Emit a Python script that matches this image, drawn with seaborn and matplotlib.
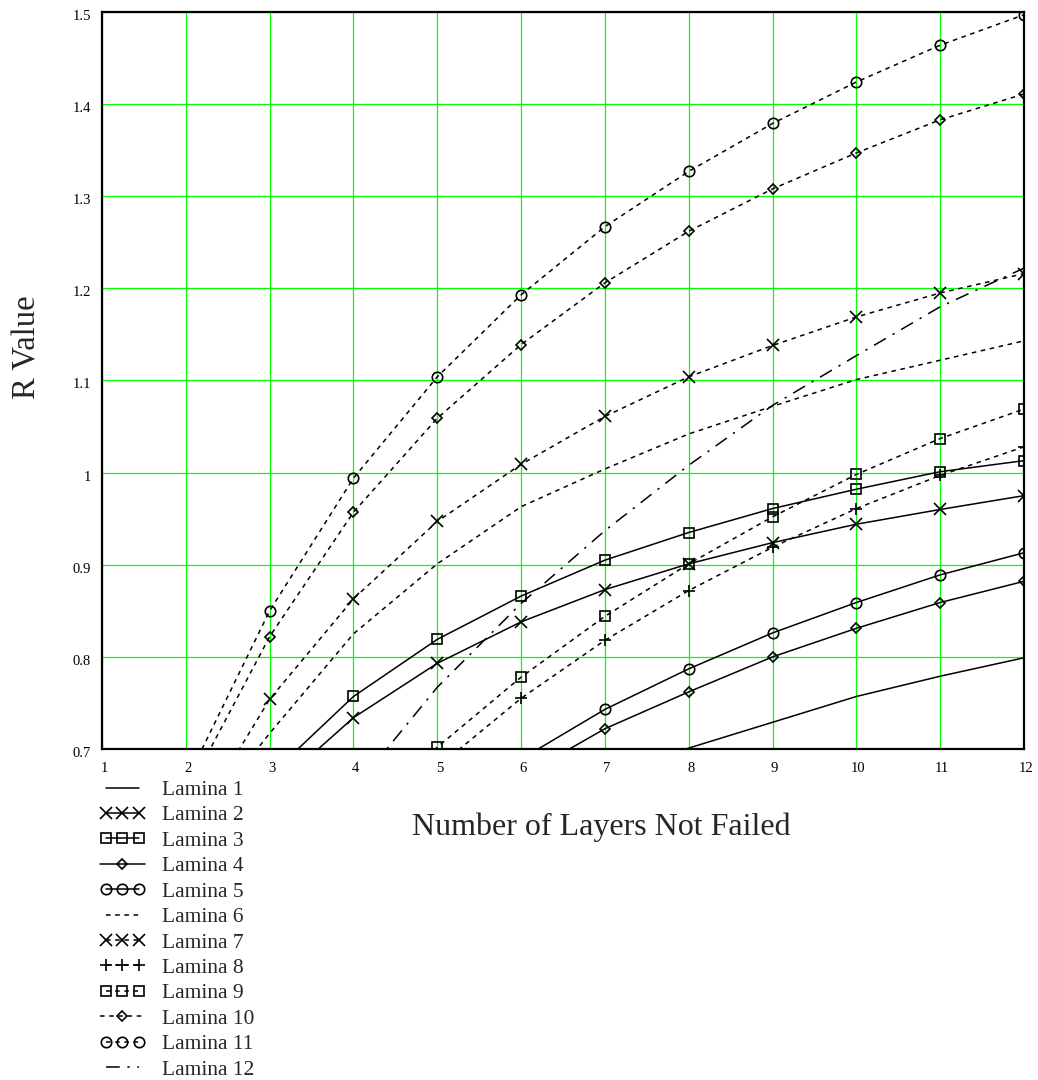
import numpy as np
import pandas as pd
import matplotlib
matplotlib.use("Agg")
import matplotlib.pyplot as plt
from matplotlib.legend_handler import HandlerLine2D
from matplotlib.transforms import ScaledTranslation
import seaborn as sns

# ---- data ----
lam1_x = [7, 8, 9, 10, 11, 12]
lam1_y = [0.672, 0.701, 0.729, 0.757, 0.779, 0.799]
lam2_x = [3, 4, 5, 6, 7, 8, 9, 10, 11, 12]
lam2_y = [0.653, 0.734, 0.793, 0.838, 0.873, 0.901, 0.924, 0.944, 0.960, 0.975]
lam3_x = [3, 4, 5, 6, 7, 8, 9, 10, 11, 12]
lam3_y = [0.671, 0.757, 0.819, 0.866, 0.905, 0.935, 0.961, 0.982, 1.001, 1.013]
lam4_x = [6, 7, 8, 9, 10, 11, 12]
lam4_y = [0.670, 0.722, 0.762, 0.800, 0.831, 0.859, 0.882]
lam5_x = [6, 7, 8, 9, 10, 11, 12]
lam5_y = [0.689, 0.743, 0.787, 0.826, 0.859, 0.889, 0.913]
lam6_x = [2, 3, 4, 5, 6, 7, 8, 9, 10, 11, 12]
lam6_y = [0.602, 0.717, 0.825, 0.901, 0.963, 1.004, 1.042, 1.072, 1.101, 1.122, 1.143]
lam7_x = [2, 3, 4, 5, 6, 7, 8, 9, 10, 11, 12]
lam7_y = [0.604, 0.754, 0.863, 0.947, 1.009, 1.061, 1.104, 1.138, 1.169, 1.195, 1.216]
lam8_x = [5, 6, 7, 8, 9, 10, 11, 12]
lam8_y = [0.680, 0.755, 0.818, 0.872, 0.919, 0.961, 0.997, 1.028]
lam9_x = [4, 5, 6, 7, 8, 9, 10, 11, 12]
lam9_y = [0.617, 0.702, 0.778, 0.844, 0.901, 0.952, 0.998, 1.037, 1.069]
lam10_x = [2, 3, 4, 5, 6, 7, 8, 9, 10, 11, 12]
lam10_y = [0.650, 0.822, 0.957, 1.059, 1.139, 1.206, 1.262, 1.308, 1.347, 1.383, 1.411]
lam11_x = [2, 3, 4, 5, 6, 7, 8, 9, 10, 11, 12]
lam11_y = [0.664, 0.850, 0.994, 1.104, 1.193, 1.267, 1.327, 1.379, 1.424, 1.464, 1.497]
lam12_x = [4, 5, 6, 7, 8, 9, 10, 11, 12]
lam12_y = [0.656, 0.767, 0.858, 0.937, 1.008, 1.073, 1.127, 1.180, 1.222]

labels = [f"Lamina {i}" for i in range(1, 13)]
xs = [lam1_x, lam2_x, lam3_x, lam4_x, lam5_x, lam6_x, lam7_x, lam8_x, lam9_x, lam10_x, lam11_x, lam12_x]
ys = [lam1_y, lam2_y, lam3_y, lam4_y, lam5_y, lam6_y, lam7_y, lam8_y, lam9_y, lam10_y, lam11_y, lam12_y]

x_ticks = list(range(1, 13))
y_ticks = [0.7, 0.8, 0.9, 1.0, 1.1, 1.2, 1.3, 1.4, 1.5]
y_ticklabels = ["0.7", "0.8", "0.9", "1", "1.1", "1.2", "1.3", "1.4", "1.5"]

df = pd.concat(
    [pd.DataFrame({"layers": x, "R": y, "series": lab}) for x, y, lab in zip(xs, ys, labels)],
    ignore_index=True,
)

# ---- styles ----
solid = "-"
dotted = (0, (3.0, 3.0))
dashdot = (0, (9, 5, 1.5, 5))
styles = {
    "Lamina 1": dict(ls=solid, marker=None, ms=0),
    "Lamina 2": dict(ls=solid, marker="x", ms=9),
    "Lamina 3": dict(ls=solid, marker="s", ms=7.5),
    "Lamina 4": dict(ls=solid, marker="D", ms=5),
    "Lamina 5": dict(ls=solid, marker="o", ms=7.5),
    "Lamina 6": dict(ls=dotted, marker=None, ms=0),
    "Lamina 7": dict(ls=dotted, marker="x", ms=9),
    "Lamina 8": dict(ls=dotted, marker="+", ms=9),
    "Lamina 9": dict(ls=dotted, marker="s", ms=7.5),
    "Lamina 10": dict(ls=dotted, marker="D", ms=5),
    "Lamina 11": dict(ls=dotted, marker="o", ms=7.5),
    "Lamina 12": dict(ls=dashdot, marker=None, ms=0),
}

sns.set_style("white")
plt.rcParams["font.family"] = ["Liberation Serif", "DejaVu Serif"]

fig = plt.figure(figsize=(10.38, 10.8), dpi=100)
ax = fig.add_axes([102 / 1038, 1 - 749 / 1080, 922 / 1038, 737 / 1080])

handles = []
for lab in labels:
    st = styles[lab]
    sub = df[df["series"] == lab]
    kw = dict(color="black", linewidth=1.1, linestyle=st["ls"])
    if st["marker"]:
        kw.update(marker=st["marker"], markersize=st["ms"], fillstyle="none",
                  markeredgecolor="black", markeredgewidth=1.2)
    n_before = len(ax.lines)
    sns.lineplot(data=sub, x="layers", y="R", ax=ax, errorbar=None,
                 estimator=None, sort=True, legend=False, **kw)
    line = ax.lines[n_before]
    line.set_label(lab)
    line.set_clip_on(True)
    handles.append(line)

ax.set_xlim(1, 12)
ax.set_ylim(0.7, 1.5)
ax.set_xticks(x_ticks)
ax.set_xticklabels([str(t) for t in x_ticks])
ax.set_yticks(y_ticks)
ax.set_yticklabels(y_ticklabels)
ax.tick_params(axis="both", length=0, labelsize=10.5, colors="black")
ax.tick_params(axis="y", pad=8)
ax.tick_params(axis="x", pad=9)
for lbl in ax.get_yticklabels():
    lbl.set_transform(lbl.get_transform() + ScaledTranslation(0, -3 / 100, fig.dpi_scale_trans))
for lbl in ax.get_xticklabels():
    lbl.set_transform(lbl.get_transform() + ScaledTranslation(2 / 100, 0, fig.dpi_scale_trans))
ax.grid(True, color="#00ff00", linewidth=0.9)
ax.set_axisbelow(True)
for sp in ax.spines.values():
    sp.set_visible(True)
    sp.set_color("black")
    sp.set_linewidth(1.6)

ax.set_xlabel("")
ax.set_ylabel("")
fig.text(35 / 1038, 1 - 347 / 1080, "R Value", rotation=90, fontsize=23.5,
         ha="center", va="baseline", rotation_mode="anchor")
fig.text(601 / 1038, 1 - 835 / 1080, "Number of Layers Not Failed", fontsize=23,
         ha="center", va="baseline")

one_pt = HandlerLine2D(numpoints=1)
hmap = {handles[3]: one_pt, handles[9]: one_pt}
fig.legend(handles, labels, loc="upper left",
           bbox_to_anchor=(100 / 1038, 1 - 780 / 1080),
           frameon=False, fontsize=15.5, numpoints=3, handlelength=2.09,
           handletextpad=0.79, labelspacing=0.248, borderpad=0, borderaxespad=0,
           handler_map=hmap)

fig.savefig("out.png", dpi=100)
